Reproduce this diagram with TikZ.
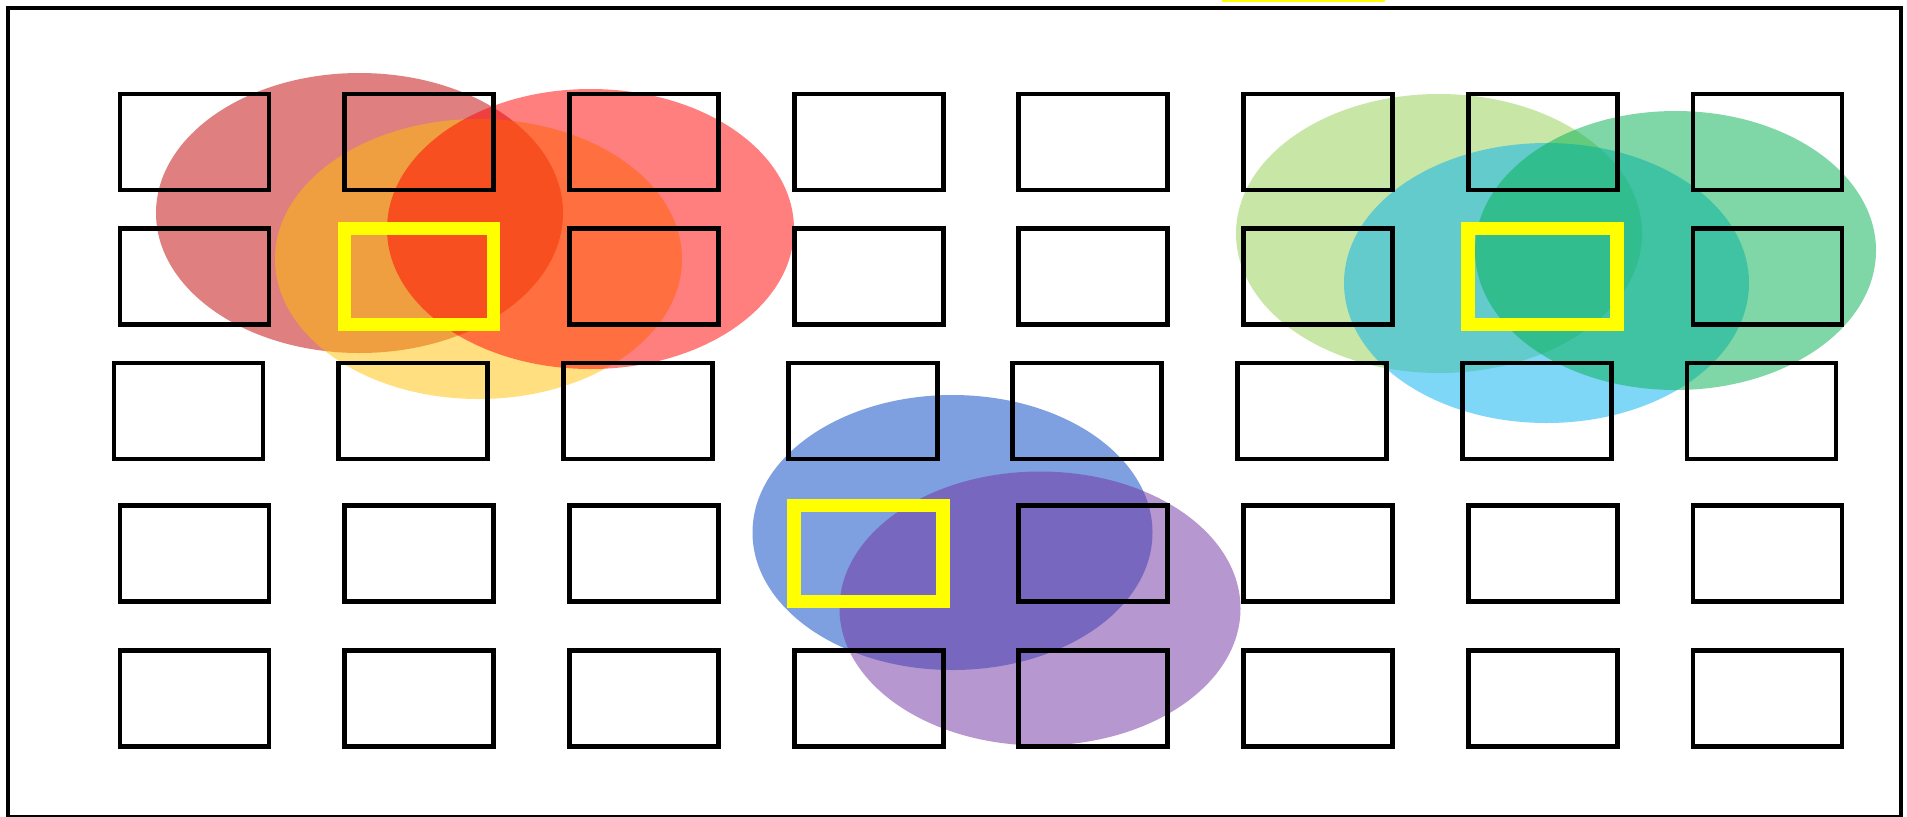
\documentclass[tikz,border=0pt]{standalone}
\usetikzlibrary{shapes.geometric}
\definecolor{cDarkRed}{HTML}{C00000}
\definecolor{cGold}{HTML}{FFC000}
\definecolor{cRed}{HTML}{FF0000}
\definecolor{cBlue}{HTML}{0042C2}
\definecolor{cPurple}{HTML}{7030A0}
\definecolor{cLime}{HTML}{92D050}
\definecolor{cSky}{HTML}{00B0F0}
\definecolor{cGreen}{HTML}{00B050}
\definecolor{cPick}{HTML}{FFFF00}
\begin{document}
\begin{tikzpicture}[x=0.5pt,y=-0.5pt,
  cell/.style={draw=black,line width=2.4pt,minimum width=74.5pt,minimum height=48pt,inner sep=0pt,outer sep=0pt},
  pick/.style={draw=cPick,line width=6.75pt,minimum width=74.5pt,minimum height=48pt,inner sep=0pt,outer sep=0pt},
  blob/.style={fill opacity=0.5}]
\useasboundingbox (0,0) rectangle (1907,816);
\fill[white] (0,0) rectangle (1907,816);
% ellipses
\fill[blob,cDarkRed] (359.5,213) ellipse [x radius=101.75pt, y radius=70pt];
\fill[blob,cGold] (478.5,259) ellipse [x radius=101.75pt, y radius=70pt];
\fill[blob,cRed] (590.5,229) ellipse [x radius=101.75pt, y radius=70pt];
\fill[blob,cBlue] (952.5,532.5) ellipse [x radius=100pt, y radius=68.75pt];
\fill[blob,cPurple] (1040,608.5) ellipse [x radius=100.25pt, y radius=68.5pt];
\fill[blob,cLime] (1439,233.5) ellipse [x radius=101.5pt, y radius=69.75pt];
\fill[blob,cSky] (1546.5,283) ellipse [x radius=101.25pt, y radius=70pt];
\fill[blob,cGreen] (1675.5,250.5) ellipse [x radius=100.25pt, y radius=69.75pt];
% grid of boxes
\foreach \r/\yy/\dx in {1/142/0,2/276.5/0,3/411/-6,4/553.5/0,5/698.5/0}
  \foreach \c in {1,...,8}
    \node[cell] (b\r\c) at ({194.5+(\c-1)*224.7+\dx},\yy) {};
% highlighted boxes
\node[pick] (y22) at (b22) {};
\node[pick] (y27) at (b27) {};
\node[pick] (y44) at (b44) {};
% frame
\draw[line width=2pt] (8,8) rectangle (1901,817);
\fill[cPick] (1222,0) rectangle (1385,2);
\end{tikzpicture}
\end{document}
